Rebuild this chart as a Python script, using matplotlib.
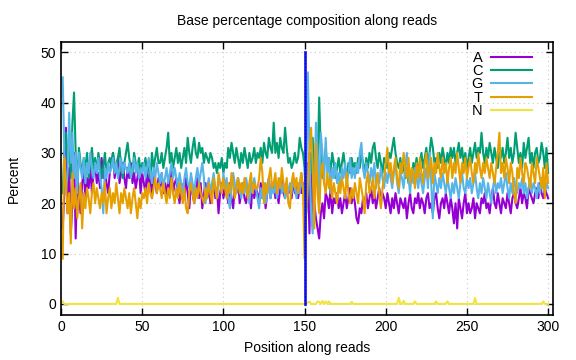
import numpy as np
import matplotlib.pyplot as plt

plt.rcParams['font.family'] = ['Liberation Sans', 'DejaVu Sans']
plt.rcParams['font.size'] = 10

#======================================================================
#    Values, positions 1..300
pos = np.arange(1, 301)

pctA = [15, 22, 35, 18, 27, 14, 20, 30, 13, 25,
        22, 18, 24, 26, 21, 25, 23, 27, 22, 26,
        28, 24, 26, 23, 29, 25, 27, 24, 22, 26,
        28, 30, 25, 27, 29, 24, 26, 28, 25, 23,
        27, 25, 28, 24, 26, 23, 25, 27, 22, 26,
        24, 22, 27, 23, 25, 21, 26, 24, 22, 25,
        23, 26, 22, 24, 21, 25, 23, 27, 22, 24,
        25, 22, 20, 24, 23, 21, 25, 22, 19, 24,
        22, 20, 23, 25, 21, 24, 19, 22, 24, 21,
        23, 20, 22, 25, 21, 23, 18, 22, 24, 21,
        23, 22, 20, 24, 21, 19, 23, 22, 25, 20,
        22, 24, 21, 20, 23, 22, 19, 24, 21, 23,
        22, 20, 24, 21, 23, 19, 22, 25, 21, 23,
        24, 21, 22, 20, 23, 25, 22, 21, 24, 22,
        23, 21, 25, 22, 24, 21, 23, 22, 24, 20,
        24, 28, 14, 30, 16, 20, 17, 15, 13, 18,
        20, 17, 22, 21, 19, 23, 18, 21, 20, 22,
        19, 21, 18, 20, 22, 19, 21, 23, 20, 22,
        20, 17, 16, 19, 18, 21, 20, 22, 19, 21,
        23, 20, 22, 19, 21, 23, 20, 22, 21, 19,
        22, 20, 18, 21, 19, 22, 20, 18, 21, 20,
        19, 21, 17, 20, 22, 19, 18, 21, 20, 22,
        19, 21, 20, 18, 21, 22, 19, 20, 18, 21,
        22, 19, 17, 20, 21, 19, 22, 20, 18, 21,
        19, 16, 20, 15, 21, 19, 17, 20, 22, 18,
        20, 18, 19, 21, 17, 20, 19, 18, 21, 20,
        22, 19, 20, 18, 21, 23, 20, 19, 22, 20,
        18, 21, 20, 19, 22, 20, 18, 21, 22, 20,
        19, 21, 23, 20, 22, 21, 19, 23, 22, 21,
        20, 22, 23, 21, 24, 22, 21, 23, 22, 21]

pctC = [22, 30, 34, 28, 32, 25, 36, 42, 30, 24,
        31, 28, 26, 29, 27, 30, 25, 28, 31, 27,
        29, 26, 30, 28, 25, 27, 30, 26, 28, 29,
        27, 30, 28, 26, 29, 31, 27, 25, 28, 30,
        32, 29, 27, 26, 30, 28, 27, 29, 26, 28,
        27, 29, 26, 28, 25, 30, 27, 29, 31, 28,
        28, 30, 27, 29, 31, 34, 28, 30, 27, 29,
        31, 28, 30, 27, 29, 31, 28, 33, 30, 28,
        31, 33, 30, 29, 32, 30, 31, 28, 30, 29,
        28, 30, 29, 27, 28, 26, 28, 27, 29, 26,
        28, 27, 31, 29, 32, 30, 28, 31, 29, 27,
        30, 28, 31, 29, 27, 30, 28, 29, 31, 28,
        30, 29, 31, 28, 32, 30, 29, 33, 31, 30,
        36, 30, 32, 29, 33, 31, 30, 35, 31, 28,
        29, 27, 28, 30, 28, 29, 33, 31, 30, 27,
        18, 22, 30, 26, 33, 24, 29, 27, 41, 30,
        25, 28, 31, 27, 29, 26, 30, 28, 25, 27,
        29, 26, 28, 30, 27, 25, 28, 26, 29, 27,
        28, 26, 29, 27, 30, 28, 26, 29, 27, 30,
        28, 31, 32, 29, 27, 30, 28, 26, 29, 28,
        27, 30, 29, 31, 33, 30, 28, 27, 29, 26,
        28, 25, 27, 24, 26, 25, 28, 27, 29, 26,
        28, 30, 27, 29, 31, 28, 30, 33, 31, 28,
        29, 27, 30, 28, 31, 29, 27, 30, 28, 31,
        29, 31, 28, 30, 32, 29, 31, 28, 30, 27,
        29, 31, 28, 30, 32, 29, 31, 30, 34, 30,
        28, 31, 29, 32, 30, 28, 31, 29, 27, 30,
        29, 31, 28, 30, 33, 29, 31, 28, 30, 34,
        31, 28, 30, 27, 32, 29, 31, 33, 28, 30,
        27, 30, 31, 28, 29, 32, 30, 27, 31, 26]

pctG = [45, 30, 22, 26, 38, 28, 34, 25, 30, 22,
        30, 27, 25, 29, 24, 28, 26, 30, 27, 25,
        28, 26, 29, 25, 23, 18, 27, 25, 28, 26,
        27, 29, 26, 28, 25, 27, 29, 26, 28, 27,
        26, 28, 25, 27, 29, 26, 28, 25, 27, 26,
        28, 25, 27, 29, 26, 24, 27, 25, 28, 26,
        24, 26, 23, 25, 27, 24, 26, 28, 25, 27,
        25, 23, 26, 24, 22, 25, 27, 24, 23, 26,
        24, 22, 25, 27, 24, 26, 28, 25, 20, 23,
        25, 22, 24, 26, 23, 21, 25, 24, 22, 26,
        23, 25, 21, 19, 23, 26, 24, 22, 25, 23,
        21, 24, 22, 25, 23, 20, 24, 22, 25, 23,
        21, 19, 23, 21, 24, 20, 22, 25, 21, 23,
        22, 24, 21, 23, 25, 22, 24, 21, 23, 22,
        24, 22, 25, 23, 21, 24, 22, 26, 23, 20,
        22, 46, 30, 18, 14, 24, 36, 30, 20, 34,
        30, 24, 33, 26, 29, 22, 27, 25, 28, 24,
        26, 23, 27, 25, 28, 24, 26, 29, 25, 27,
        25, 28, 26, 30, 32, 27, 25, 28, 26, 24,
        27, 25, 28, 23, 26, 24, 27, 25, 23, 26,
        24, 27, 25, 23, 26, 28, 24, 22, 26, 25,
        23, 27, 30, 25, 22, 26, 24, 27, 25, 23,
        26, 24, 22, 25, 27, 23, 30, 24, 17, 26,
        24, 22, 25, 23, 26, 24, 22, 25, 23, 21,
        24, 22, 25, 23, 21, 24, 26, 23, 22, 25,
        23, 25, 22, 24, 26, 23, 21, 24, 22, 25,
        23, 21, 24, 22, 20, 23, 25, 22, 24, 23,
        25, 22, 24, 26, 23, 21, 24, 22, 25, 23,
        22, 24, 23, 25, 22, 24, 21, 23, 25, 22,
        24, 23, 21, 24, 22, 25, 23, 22, 24, 23]

pctT = [9, 29, 24, 18, 22, 12, 26, 19, 23, 17,
        21, 24, 15, 22, 19, 23, 21, 18, 22, 24,
        20, 23, 21, 19, 22, 20, 24, 18, 21, 23,
        19, 22, 20, 24, 21, 18, 22, 20, 23, 21,
        19, 22, 18, 21, 23, 20, 17, 21, 19, 22,
        21, 23, 20, 24, 22, 21, 23, 25, 22, 24,
        23, 21, 24, 22, 20, 23, 21, 25, 22, 20,
        23, 21, 24, 22, 20, 23, 19, 18, 22, 24,
        22, 20, 23, 21, 24, 22, 21, 20, 23, 21,
        24, 22, 20, 25, 23, 21, 26, 24, 22, 25,
        23, 21, 24, 22, 26, 24, 21, 23, 25, 22,
        24, 22, 25, 23, 21, 24, 26, 22, 24, 23,
        23, 25, 29, 26, 20, 24, 22, 25, 27, 23,
        24, 26, 22, 25, 23, 27, 24, 22, 25, 20,
        19, 24, 26, 23, 25, 22, 24, 26, 23, 9,
        18, 24, 30, 35, 27, 15, 32, 22, 18, 26,
        28, 24, 22, 26, 23, 25, 21, 24, 22, 20,
        24, 22, 25, 23, 21, 26, 22, 20, 23, 21,
        24, 22, 20, 25, 23, 21, 18, 24, 26, 22,
        23, 25, 21, 24, 26, 22, 19, 23, 25, 28,
        31, 26, 28, 24, 27, 29, 25, 23, 28, 26,
        30, 27, 25, 29, 24, 27, 26, 23, 28, 25,
        29, 26, 24, 28, 30, 25, 27, 29, 24, 28,
        26, 30, 27, 25, 29, 26, 28, 24, 27, 29,
        25, 28, 26, 30, 27, 24, 28, 26, 29, 25,
        27, 29, 26, 24, 28, 26, 30, 27, 25, 28,
        26, 29, 27, 25, 28, 26, 24, 27, 30, 34,
        26, 28, 25, 29, 27, 24, 28, 26, 22, 20,
        27, 25, 29, 26, 24, 28, 27, 25, 23, 28,
        26, 24, 29, 27, 25, 23, 27, 21, 28, 24]

# N is zero apart from a few small spikes
nPos = [1, 35, 152, 153, 158, 159, 161, 163, 165, 179, 208, 211, 218, 231, 238, 255, 297]
nVal = [0.5, 1.2, 0.3, 0.5, 0.5, 0.4, 0.6, 0.5, 0.5, 0.4, 1.2, 0.6, 0.5, 0.5, 0.5, 1.2, 0.5]
pctN = np.zeros(len(pos))
pctN[np.array(nPos) - 1] = nVal

bases = ['A', 'C', 'G', 'T', 'N']
cols = ['#9400d3', '#009e73', '#56b4e9', '#e69f00', '#f0e442']

#======================================================================
#    Plot
fig = plt.figure(figsize=(5.76, 3.6), dpi=100)
ax = fig.add_axes([0.106, 0.125, 0.854, 0.758])

for lab, vals, c in zip(bases, [pctA, pctC, pctG, pctT, pctN], cols):
    ax.plot(pos, vals, color=c, lw=1.5, label=lab)

# read boundary marker
ax.plot([150, 150], [0, 50], color='#2020ff', lw=2, zorder=3)
ax.plot([150, 150], [0, 50], color='#000080', lw=0.6, ls=(0, (2, 2)), zorder=3)

ax.set_xlim(0, 303)
ax.set_ylim(-2.2, 52)
ax.set_xticks(np.arange(0, 301, 50))
ax.set_yticks(np.arange(0, 51, 10))
ax.tick_params(direction='in', top=True, right=True, length=5, width=1)
ax.grid(True, color='#c8c8c8', ls=(0, (1, 3)), lw=0.8)
for s in ax.spines.values():
    s.set_linewidth(1.2)

ax.set_title('Base percentage composition along reads', fontsize=10, pad=12)
ax.set_xlabel('Position along reads', labelpad=5)
ax.set_ylabel('Percent', labelpad=14)

ax.legend(loc='upper right', frameon=False, markerfirst=False, fontsize=10.5,
          handlelength=2.8, handletextpad=0.6, labelspacing=-0.05,
          borderaxespad=0.2, bbox_to_anchor=(0.975, 1.0))

plt.savefig('out.png', dpi=100)
